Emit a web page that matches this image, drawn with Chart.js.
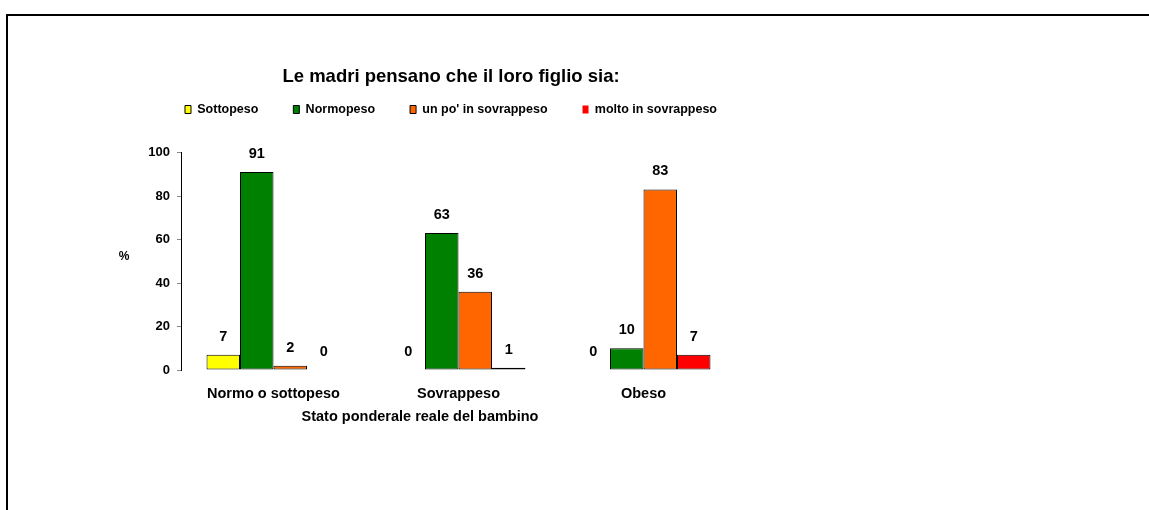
<!DOCTYPE html>
<html>
<head>
<meta charset="utf-8">
<script src="https://cdn.jsdelivr.net/npm/chart.js@4/dist/chart.umd.min.js"></script>
<style>
  html, body { margin: 0; padding: 0; background: #fff; }
  body { width: 1149px; height: 510px; position: relative; overflow: hidden; }
  /* cornice nera in alto e a sinistra, come nel grafico originale */
  #frame { position: absolute; left: 6px; top: 14px; width: 1200px; height: 600px;
           border-top: 2px solid #000; border-left: 2px solid #000; }
  #wrap { position: absolute; left: 0; top: 0; width: 902px; height: 510px; }
</style>
</head>
<body>
<div id="frame"></div>
<div id="wrap"><canvas id="grafico" width="902" height="510"></canvas></div>
<script>
// Dati
const categorie = ["Normo o sottopeso", "Sovrappeso", "Obeso"];
const sottopeso = [7, 0, 0];
const normopeso = [91, 63, 10];
const unPoSovrappeso = [2, 36, 83];
const moltoSovrappeso = [0, 1, 7];
const tickY = [0, 20, 40, 60, 80, 100];

const titolo = "Le madri pensano che il loro figlio sia:";
const titoloAsseX = "Stato ponderale reale del bambino";
const titoloAsseY = "%";

const FONT = "'Liberation Sans', Arial, sans-serif";

// etichette dei valori sopra le barre (niente plugin esterni: li scriviamo a mano)
const etichetteValori = {
  id: "etichetteValori",
  afterDatasetsDraw(chart) {
    const ctx = chart.ctx;
    ctx.save();
    ctx.font = "bold 14.5px " + FONT;
    ctx.fillStyle = "#000";
    ctx.textAlign = "center";
    ctx.textBaseline = "middle";
    chart.data.datasets.forEach((ds, i) => {
      chart.getDatasetMeta(i).data.forEach((bar, j) => {
        ctx.fillText(String(ds.data[j]), bar.x, bar.y - 18);
      });
    });
    ctx.restore();
  },
};

// titoli degli assi (orizzontali, come nell'originale)
const titoliAssi = {
  id: "titoliAssi",
  afterDraw(chart) {
    const ctx = chart.ctx;
    const area = chart.chartArea;
    ctx.save();
    ctx.fillStyle = "#000";
    ctx.textAlign = "center";
    ctx.textBaseline = "middle";
    ctx.font = "bold 14.5px " + FONT;
    ctx.fillText(titoloAsseX, 420, area.bottom + 47);
    ctx.font = "bold 12px " + FONT;
    ctx.fillText(titoloAsseY, 124, (area.top + area.bottom) / 2 - 5);
    ctx.restore();
  },
};

const zeroSenzaBordo = (c) => (c.raw === 0 ? 0 : 1);

new Chart(document.getElementById("grafico"), {
  type: "bar",
  data: {
    labels: categorie,
    datasets: [
      { label: "Sottopeso", data: sottopeso, backgroundColor: "#ffff00" },
      { label: "Normopeso", data: normopeso, backgroundColor: "#008000" },
      { label: "un po' in sovrappeso", data: unPoSovrappeso, backgroundColor: "#ff6600" },
      { label: "molto in sovrappeso", data: moltoSovrappeso, backgroundColor: "#ff0000" },
    ].map((d) => Object.assign(d, {
      borderColor: "#000",
      borderWidth: zeroSenzaBordo,
      borderSkipped: false,
      categoryPercentage: 0.724,
      barPercentage: 1,
    })),
  },
  plugins: [etichetteValori, titoliAssi],
  options: {
    responsive: false,
    animation: false,
    events: [],
    layout: { padding: { left: 0, right: 0, top: 65.4, bottom: 0 } },
    plugins: {
      title: {
        display: true,
        text: titolo,
        color: "#000",
        font: { family: FONT, size: 18.5, weight: "bold" },
        padding: { top: 0, bottom: -19.35 },
      },
      // spaziatore tra legenda e area del grafico
      subtitle: {
        display: true,
        text: " ",
        weight: 500,
        font: { family: FONT, size: 10 },
        padding: { top: 14.75, bottom: 0 },
      },
      legend: {
        display: true,
        position: "top",
        labels: {
          color: "#000",
          font: { family: FONT, size: 12.5, weight: "bold" },
          boxWidth: 6,
          boxHeight: 8,
          padding: 35,
        },
      },
      tooltip: { enabled: false },
    },
    scales: {
      x: {
        grid: { display: false },
        border: { display: false },
        ticks: {
          color: "#000",
          font: { family: FONT, size: 14.5, weight: "bold" },
          padding: 7,
          maxRotation: 0,
        },
        afterFit(scale) { scale.height = 140; },
      },
      y: {
        min: 0,
        max: 100,
        grid: { drawOnChartArea: false, drawTicks: true, tickLength: 4, color: "#888" },
        border: { display: true, color: "#000", width: 1 },
        afterBuildTicks(scale) { scale.ticks = tickY.map((v) => ({ value: v })); },
        ticks: {
          color: "#000",
          font: { family: FONT, size: 13, weight: "bold" },
          padding: 7,
        },
        afterFit(scale) { scale.width = 181; },
      },
      // asse vuoto a destra: solo spazio bianco, così il grafico finisce a x=736
      destra: {
        position: "right",
        grid: { display: false },
        border: { display: false },
        ticks: { display: false },
        afterFit(scale) { scale.width = 166; },
      },
    },
  },
});
</script>
</body>
</html>
